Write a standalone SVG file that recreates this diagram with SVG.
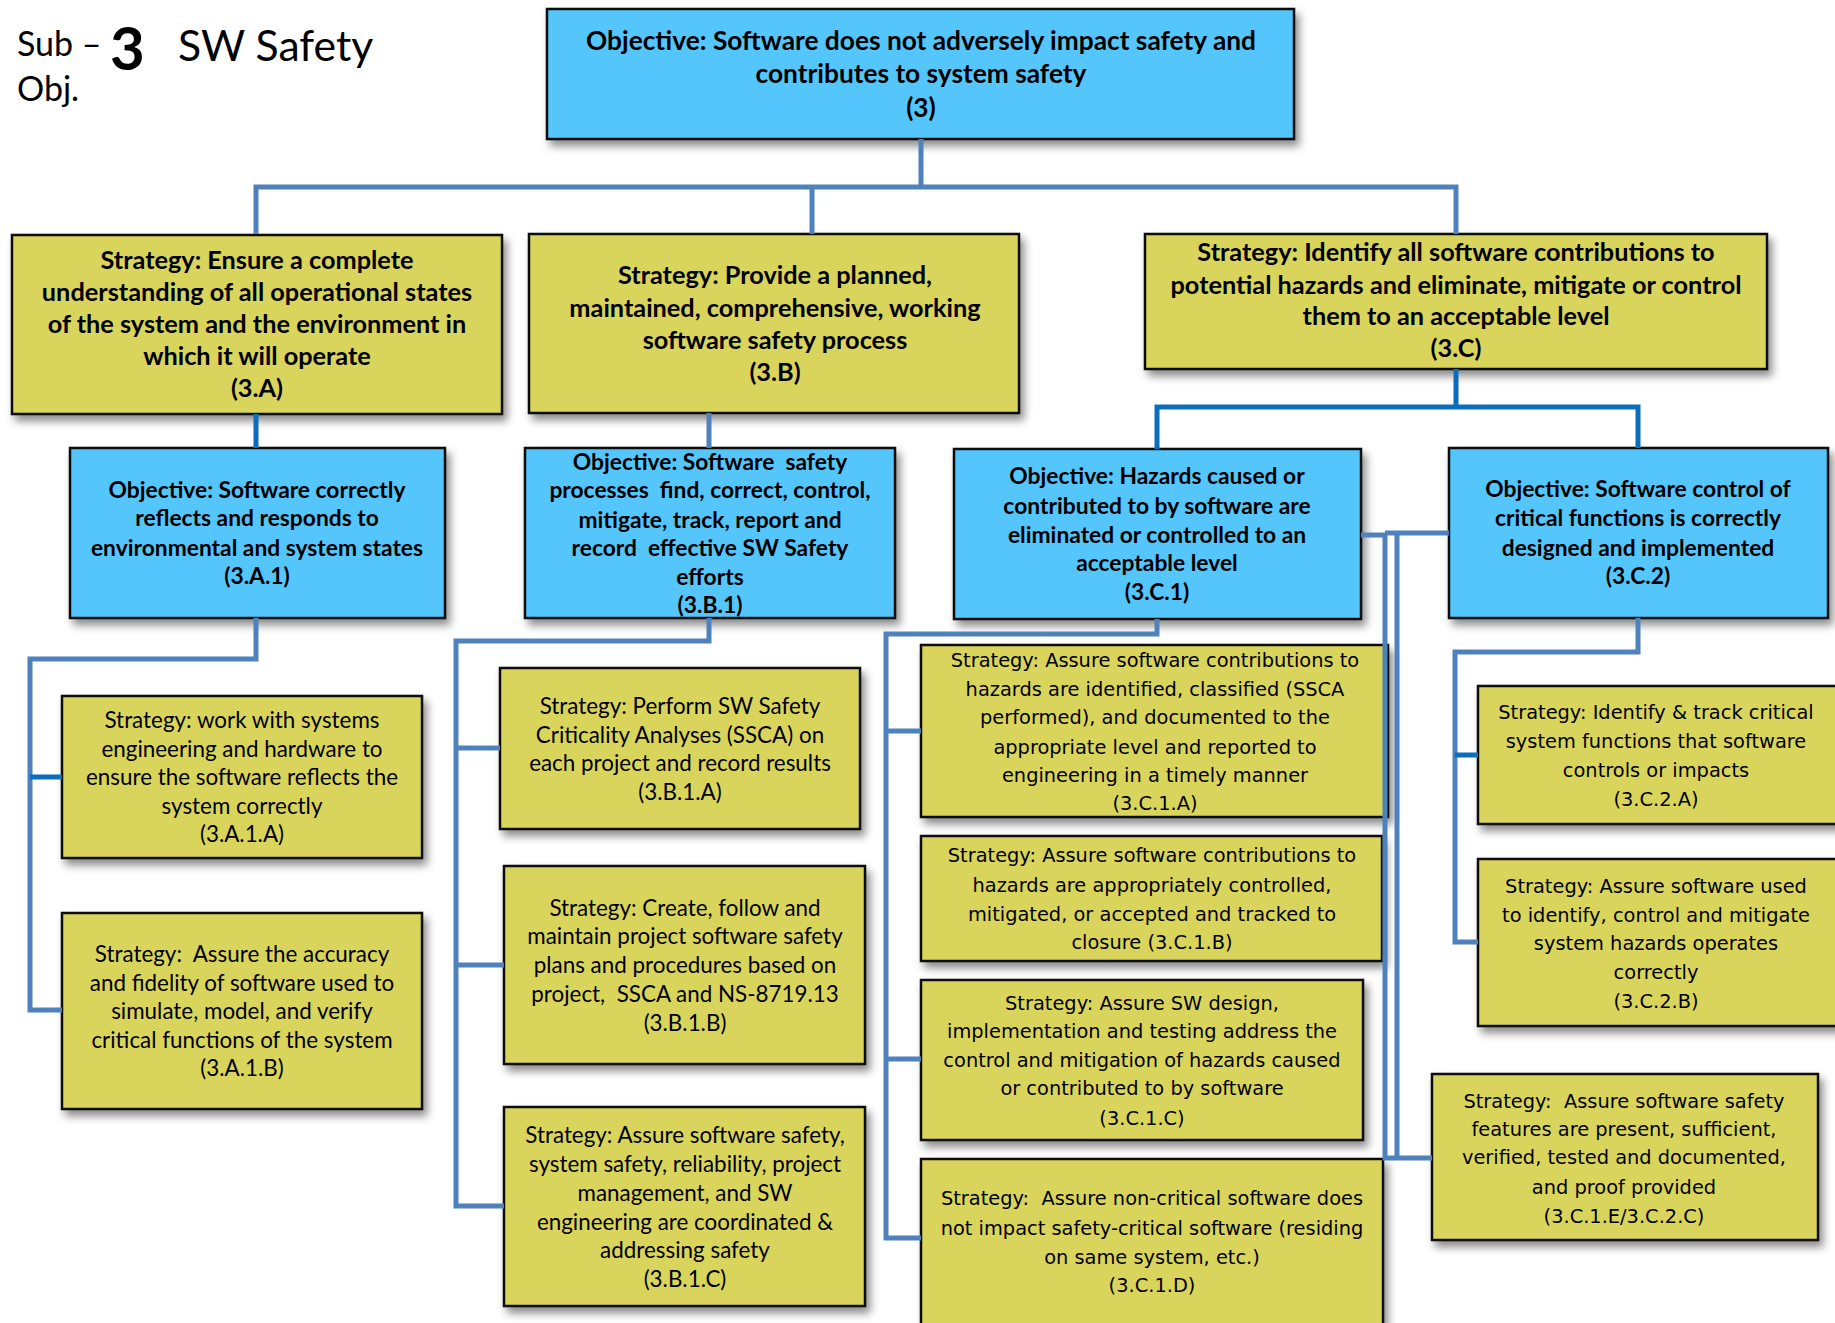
<svg xmlns="http://www.w3.org/2000/svg" width="1835" height="1323" viewBox="0 0 1835 1323">
<defs>
<filter id="sh" x="-10%" y="-10%" width="130%" height="140%">
<feDropShadow dx="4" dy="6" stdDeviation="4" flood-color="#000" flood-opacity="0.45"/>
</filter>
<style>
.bx{stroke:#111;stroke-width:2.5;filter:url(#sh)}
.blue{fill:#54C6FC}
.yel{fill:#D9D55B}
.cn{fill:none;stroke:#4F81BD;stroke-width:5}
.cd{fill:none;stroke:#0A6EBD;stroke-width:5}
text{fill:#000;text-anchor:middle}
.t0{font-family:Lato,"Open Sans",sans-serif;font-weight:bold;font-size:26.3px}
.t1{font-family:Lato,"Open Sans",sans-serif;font-weight:bold;font-size:25.3px}
.t2{font-family:Lato,"Open Sans",sans-serif;font-weight:bold;font-size:22.8px}
.t3{font-family:Lato,"Open Sans",sans-serif;font-size:22.4px}
.t4{font-family:"DejaVu Sans",Verdana,sans-serif;font-size:19.4px}
.ti{font-family:Lato,"Open Sans",sans-serif;text-anchor:start}
</style>
</defs>

<g id="title">
<text class="ti" x="17" y="56" font-size="34">Sub –</text>
<text class="ti" x="110" y="70" font-size="60" font-weight="bold">3</text>
<text class="ti" x="178" y="61" font-size="42.7">SW Safety</text>
<text class="ti" x="17" y="101" font-size="34">Obj.</text>
</g>

<g id="n3">
<rect class="bx blue" x="547" y="9" width="747" height="130"/>
<text class="t0" x="921" y="50">Objective: Software does not adversely impact safety and</text>
<text class="t0" x="921" y="83">contributes to system safety</text>
<text class="t0" x="921" y="117">(3)</text>
</g>

<g id="n3A">
<rect class="bx yel" x="12" y="235" width="490" height="179"/>
<text class="t1" x="257" y="269">Strategy: Ensure a complete</text>
<text class="t1" x="257" y="301">understanding of all operational states</text>
<text class="t1" x="257" y="333">of the system and the environment in</text>
<text class="t1" x="257" y="365">which it will operate</text>
<text class="t1" x="257" y="397">(3.A)</text>
</g>

<g id="n3B">
<rect class="bx yel" x="529" y="234" width="490" height="179"/>
<text class="t1" x="775" y="284">Strategy: Provide a planned,</text>
<text class="t1" x="775" y="317">maintained, comprehensive, working</text>
<text class="t1" x="775" y="349">software safety process</text>
<text class="t1" x="775" y="381">(3.B)</text>
</g>

<g id="n3C">
<rect class="bx yel" x="1145" y="234" width="622" height="135"/>
<text class="t1" x="1456" y="261">Strategy: Identify all software contributions to</text>
<text class="t1" x="1456" y="294">potential hazards and eliminate, mitigate or control</text>
<text class="t1" x="1456" y="325">them to an acceptable level</text>
<text class="t1" x="1456" y="357">(3.C)</text>
</g>

<g id="n3A1">
<rect class="bx blue" x="70" y="448" width="375" height="170"/>
<text class="t2" x="257" y="498">Objective: Software correctly</text>
<text class="t2" x="257" y="526">reflects and responds to</text>
<text class="t2" x="257" y="556">environmental and system states</text>
<text class="t2" x="257" y="584">(3.A.1)</text>
</g>

<g id="n3B1">
<rect class="bx blue" x="525" y="448" width="370" height="170"/>
<text class="t2" x="710" y="470" xml:space="preserve">Objective: Software  safety</text>
<text class="t2" x="710" y="498" xml:space="preserve">processes  find, correct, control,</text>
<text class="t2" x="710" y="528">mitigate, track, report and</text>
<text class="t2" x="710" y="556" xml:space="preserve">record  effective SW Safety</text>
<text class="t2" x="710" y="585">efforts</text>
<text class="t2" x="710" y="613">(3.B.1)</text>
</g>

<g id="n3C1">
<rect class="bx blue" x="954" y="449" width="407" height="170"/>
<text class="t2" x="1157" y="484">Objective: Hazards caused or</text>
<text class="t2" x="1157" y="514">contributed to by software are</text>
<text class="t2" x="1157" y="543">eliminated or controlled to an</text>
<text class="t2" x="1157" y="571">acceptable level</text>
<text class="t2" x="1157" y="600">(3.C.1)</text>
</g>

<g id="n3C2">
<rect class="bx blue" x="1449" y="448" width="379" height="170"/>
<text class="t2" x="1638" y="497">Objective: Software control of</text>
<text class="t2" x="1638" y="526">critical functions is correctly</text>
<text class="t2" x="1638" y="556">designed and implemented</text>
<text class="t2" x="1638" y="584">(3.C.2)</text>
</g>

<g id="n3A1A">
<rect class="bx yel" x="62" y="696" width="360" height="162"/>
<text class="t3" x="242" y="728">Strategy: work with systems</text>
<text class="t3" x="242" y="757">engineering and hardware to</text>
<text class="t3" x="242" y="785">ensure the software reflects the</text>
<text class="t3" x="242" y="814">system correctly</text>
<text class="t3" x="242" y="842">(3.A.1.A)</text>
</g>

<g id="n3A1B">
<rect class="bx yel" x="62" y="913" width="360" height="196"/>
<text class="t3" x="242" y="962" xml:space="preserve">Strategy:  Assure the accuracy</text>
<text class="t3" x="242" y="991">and fidelity of software used to</text>
<text class="t3" x="242" y="1019">simulate, model, and verify</text>
<text class="t3" x="242" y="1048">critical functions of the system</text>
<text class="t3" x="242" y="1076">(3.A.1.B)</text>
</g>

<g id="n3B1A">
<rect class="bx yel" x="500" y="668" width="360" height="161"/>
<text class="t3" x="680" y="714">Strategy: Perform SW Safety</text>
<text class="t3" x="680" y="743">Criticality Analyses (SSCA) on</text>
<text class="t3" x="680" y="771">each project and record results</text>
<text class="t3" x="680" y="800">(3.B.1.A)</text>
</g>

<g id="n3B1B">
<rect class="bx yel" x="504" y="866" width="361" height="198"/>
<text class="t3" x="685" y="916">Strategy: Create, follow and</text>
<text class="t3" x="685" y="944">maintain project software safety</text>
<text class="t3" x="685" y="973">plans and procedures based on</text>
<text class="t3" x="685" y="1002" xml:space="preserve">project,  SSCA and NS-8719.13</text>
<text class="t3" x="685" y="1031">(3.B.1.B)</text>
</g>

<g id="n3B1C">
<rect class="bx yel" x="504" y="1107" width="361" height="199"/>
<text class="t3" x="685" y="1143">Strategy: Assure software safety,</text>
<text class="t3" x="685" y="1172">system safety, reliability, project</text>
<text class="t3" x="685" y="1201">management, and SW</text>
<text class="t3" x="685" y="1230">engineering are coordinated &amp;</text>
<text class="t3" x="685" y="1258">addressing safety</text>
<text class="t3" x="685" y="1287">(3.B.1.C)</text>
</g>

<g id="n3C1A">
<rect class="bx yel" x="921" y="645" width="467" height="172"/>
<text class="t4" x="1155" y="667">Strategy: Assure software contributions to</text>
<text class="t4" x="1155" y="696">hazards are identified, classified (SSCA</text>
<text class="t4" x="1155" y="724">performed), and documented to the</text>
<text class="t4" x="1155" y="754">appropriate level and reported to</text>
<text class="t4" x="1155" y="782">engineering in a timely manner</text>
<text class="t4" x="1155" y="810">(3.C.1.A)</text>
</g>

<g id="n3C1B">
<rect class="bx yel" x="921" y="836" width="461" height="125"/>
<text class="t4" x="1152" y="862">Strategy: Assure software contributions to</text>
<text class="t4" x="1152" y="892">hazards are appropriately controlled,</text>
<text class="t4" x="1152" y="921">mitigated, or accepted and tracked to</text>
<text class="t4" x="1152" y="949">closure (3.C.1.B)</text>
</g>

<g id="n3C1C">
<rect class="bx yel" x="921" y="980" width="442" height="160"/>
<text class="t4" x="1142" y="1010">Strategy: Assure SW design,</text>
<text class="t4" x="1142" y="1038">implementation and testing address the</text>
<text class="t4" x="1142" y="1067">control and mitigation of hazards caused</text>
<text class="t4" x="1142" y="1095">or contributed to by software</text>
<text class="t4" x="1142" y="1125">(3.C.1.C)</text>
</g>

<g id="n3C1D">
<rect class="bx yel" x="921" y="1159" width="462" height="180"/>
<text class="t4" x="1152" y="1205" xml:space="preserve">Strategy:  Assure non-critical software does</text>
<text class="t4" x="1152" y="1235">not impact safety-critical software (residing</text>
<text class="t4" x="1152" y="1264">on same system, etc.)</text>
<text class="t4" x="1152" y="1292">(3.C.1.D)</text>
</g>

<g id="n3C2A">
<rect class="bx yel" x="1478" y="686" width="370" height="138"/>
<text class="t4" x="1656" y="719">Strategy: Identify &amp; track critical</text>
<text class="t4" x="1656" y="748">system functions that software</text>
<text class="t4" x="1656" y="777">controls or impacts</text>
<text class="t4" x="1656" y="806">(3.C.2.A)</text>
</g>

<g id="n3C2B">
<rect class="bx yel" x="1478" y="859" width="370" height="167"/>
<text class="t4" x="1656" y="893">Strategy: Assure software used</text>
<text class="t4" x="1656" y="922">to identify, control and mitigate</text>
<text class="t4" x="1656" y="950">system hazards operates</text>
<text class="t4" x="1656" y="979">correctly</text>
<text class="t4" x="1656" y="1008">(3.C.2.B)</text>
</g>

<g id="n3C1E">
<rect class="bx yel" x="1432" y="1074" width="386" height="166"/>
<text class="t4" x="1624" y="1108" xml:space="preserve">Strategy:  Assure software safety</text>
<text class="t4" x="1624" y="1136">features are present, sufficient,</text>
<text class="t4" x="1624" y="1164">verified, tested and documented,</text>
<text class="t4" x="1624" y="1194">and proof provided</text>
<text class="t4" x="1624" y="1223">(3.C.1.E/3.C.2.C)</text>
</g>

<g id="connectors">
<path class="cn" d="M921 139 V187 M256 234 V187 H1456 V234 M812 187 V234"/>
<path class="cd" d="M256 414 V448"/>
<path class="cn" d="M709 413 V448"/>
<path class="cd" d="M1456 369 V407 M1157 449 V407 H1638 V448"/>
<path class="cn" d="M256 618 V659 H30 V1010 H62"/>
<path class="cd" d="M30 777 H62"/>
<path class="cn" d="M709 618 V641 H456 V1206 H504 M456 748 H500 M456 965 H504"/>
<path class="cn" d="M1157 619 V634 H886 V1238 H921 M886 731 H921 M886 1059 H921"/>
<path class="cn" d="M1638 618 V652 H1455 V942 H1478"/>
<path class="cd" d="M1455 755 H1478"/>
<path class="cn" d="M1361 535 H1385 M1385 533 H1449 M1385 533 V1158 H1432 M1397 533 V1158"/>
</g>
</svg>
